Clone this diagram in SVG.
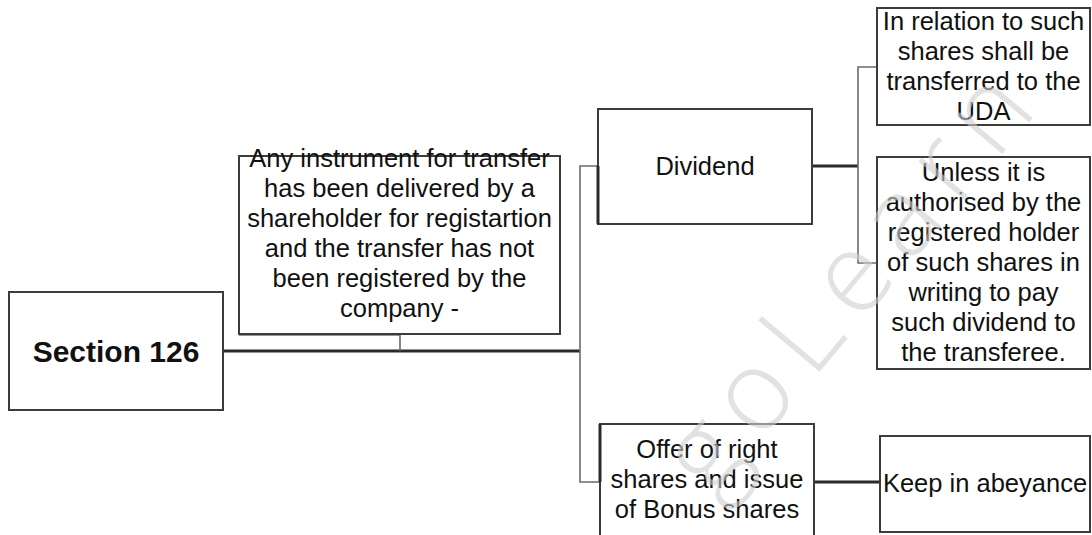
<svg xmlns="http://www.w3.org/2000/svg" width="1092" height="535" viewBox="0 0 1092 535">
  <style>
    .box { fill: #ffffff; stroke: #3c3c3c; stroke-width: 2; }
    .txt { font-family: "Liberation Sans", Arial, sans-serif; font-size: 25.5px; fill: #111111; text-anchor: middle; }
    .title { font-family: "Liberation Sans", Arial, sans-serif; font-size: 30px; font-weight: bold; fill: #111111; text-anchor: middle; }
    .thick { fill: none; stroke: #2a2a2a; stroke-width: 3; }
    .thin { fill: none; stroke: #6a6a6a; stroke-width: 1.6; }
    .mark { font-family: "Open Sans", "Liberation Sans", sans-serif; font-size: 112px; font-weight: 300; letter-spacing: 16px; fill: #cfcfcf; opacity: 0.6; }
  </style>

  <rect width="1092" height="535" fill="#ffffff"/>

  <!-- connectors -->
  <g id="connectors">
    <path class="thick" d="M223,351 H580"/>
    <path class="thick" d="M239,334 H400"/>
    <path class="thin" d="M400,334 V351"/>
    <path class="thin" d="M580,351 V166 H598"/>
    <path class="thin" d="M580,351 V482 H600"/>
    <path class="thick" d="M812,166 H858"/>
    <path class="thin" d="M858,166 V67 H878"/>
    <path class="thin" d="M858,166 V263 H877"/>
    <path class="thick" d="M814,482 H880"/>
  </g>

  <!-- root -->
  <g id="section-126">
    <rect class="box" x="9" y="292" width="214" height="118" stroke-width="2.5"/>
    <text class="title" x="116" y="362">Section 126</text>
  </g>

  <!-- condition -->
  <g id="condition">
    <rect class="box" x="239" y="156" width="321" height="178"/>
    <text class="txt" x="399.5" y="167">Any instrument for transfer</text>
    <text class="txt" x="399.5" y="197">has been delivered by a</text>
    <text class="txt" x="399.5" y="227">shareholder for registartion</text>
    <text class="txt" x="399.5" y="257">and the transfer has not</text>
    <text class="txt" x="399.5" y="287">been registered by the</text>
    <text class="txt" x="399.5" y="317">company -</text>
  </g>

  <!-- dividend branch -->
  <g id="dividend">
    <rect class="box" x="598" y="109" width="214" height="115"/>
    <path class="thick" d="M598,166 V224"/>
    <text class="txt" x="705" y="175">Dividend</text>
  </g>

  <g id="transfer-uda">
    <rect class="box" x="877" y="8" width="213" height="117"/>
    <text class="txt" x="983.5" y="30">In relation to such</text>
    <text class="txt" x="983.5" y="60">shares shall be</text>
    <text class="txt" x="983.5" y="90">transferred to the</text>
    <text class="txt" x="983.5" y="120">UDA</text>
  </g>

  <g id="unless-authorised">
    <rect class="box" x="877" y="157" width="213" height="212"/>
    <text class="txt" x="983.5" y="181">Unless it is</text>
    <text class="txt" x="983.5" y="211">authorised by the</text>
    <text class="txt" x="983.5" y="241">registered holder</text>
    <text class="txt" x="983.5" y="271">of such shares in</text>
    <text class="txt" x="983.5" y="301">writing to pay</text>
    <text class="txt" x="983.5" y="331">such dividend to</text>
    <text class="txt" x="983.5" y="361">the transferee.</text>
  </g>

  <!-- rights / bonus branch -->
  <g id="rights-bonus">
    <rect class="box" x="600" y="424" width="214" height="125"/>
    <path class="thick" d="M600,424 V482"/>
    <text class="txt" x="707" y="458">Offer of right</text>
    <text class="txt" x="707" y="488">shares and issue</text>
    <text class="txt" x="707" y="518">of Bonus shares</text>
  </g>

  <g id="abeyance">
    <rect class="box" x="880" y="436" width="210" height="96"/>
    <text class="txt" x="985" y="492">Keep in abeyance</text>
  </g>

  <!-- faint watermark over the page -->
  <text class="mark" transform="translate(712,500) rotate(-50)">goLearn</text>
</svg>
